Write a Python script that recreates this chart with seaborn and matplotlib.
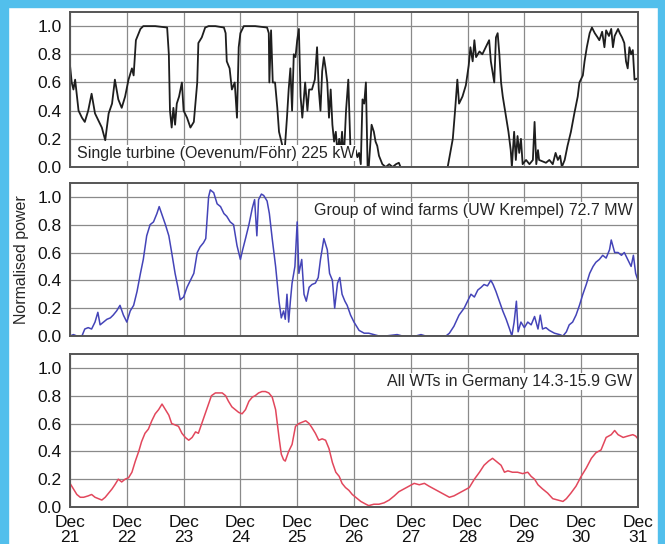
import matplotlib
matplotlib.use("Agg")
import matplotlib.pyplot as plt
from matplotlib.patches import Rectangle
import seaborn as sns
import pandas as pd

# days since Dec 21 00:00
turbine_t = [0.00, 0.03, 0.06, 0.09, 0.15, 0.21, 0.26, 0.32, 0.38, 0.44, 0.50, 0.56, 0.62, 0.68, 0.74,
             0.79, 0.85, 0.91, 0.97, 1.03, 1.09, 1.12, 1.16, 1.24, 1.29, 1.50, 1.71, 1.74, 1.76, 1.79,
             1.82, 1.85, 1.88, 1.92, 1.97, 2.00, 2.06, 2.12, 2.18, 2.24, 2.26, 2.32, 2.38, 2.44, 2.56,
             2.71, 2.74, 2.76, 2.81, 2.85, 2.90, 2.94, 2.97, 3.00, 3.06, 3.26, 3.47, 3.50, 3.51, 3.54,
             3.57, 3.61, 3.65, 3.68, 3.74, 3.78, 3.82, 3.85, 3.88, 3.91, 3.94, 3.97, 4.00, 4.03, 4.06,
             4.09, 4.14, 4.18, 4.21, 4.26, 4.31, 4.35, 4.38, 4.41, 4.44, 4.47, 4.50, 4.53, 4.56, 4.59,
             4.62, 4.65, 4.68, 4.71, 4.74, 4.76, 4.79, 4.82, 4.86, 4.90, 4.94, 4.97, 5.03, 5.06, 5.09,
             5.12, 5.15, 5.18, 5.21, 5.24, 5.26, 5.31, 5.35, 5.38, 5.41, 5.44, 5.47, 5.50, 5.56, 5.62,
             5.68, 5.74, 5.79, 5.82, 6.65, 6.74, 6.78, 6.82, 6.85, 6.91, 6.97, 7.02, 7.05, 7.09, 7.12,
             7.15, 7.21, 7.26, 7.32, 7.38, 7.41, 7.47, 7.50, 7.53, 7.56, 7.59, 7.62, 7.68, 7.72, 7.76,
             7.78, 7.82, 7.85, 7.88, 7.91, 7.94, 7.97, 8.03, 8.09, 8.15, 8.18, 8.21, 8.24, 8.26, 8.32,
             8.38, 8.44, 8.50, 8.55, 8.59, 8.63, 8.66, 8.71, 8.76, 8.82, 8.88, 8.94, 8.97, 9.03, 9.06,
             9.10, 9.15, 9.19, 9.24, 9.29, 9.32, 9.37, 9.41, 9.44, 9.49, 9.53, 9.56, 9.59, 9.65, 9.68,
             9.72, 9.76, 9.79, 9.82, 9.85, 9.88, 9.91, 9.94, 10.00]
turbine_p = [0.72, 0.60, 0.55, 0.62, 0.40, 0.35, 0.32, 0.40, 0.52, 0.38, 0.33, 0.28, 0.19, 0.38, 0.45,
             0.62, 0.48, 0.42, 0.50, 0.62, 0.70, 0.65, 0.90, 0.98, 1.00, 1.00, 0.99, 0.80, 0.40, 0.28,
             0.42, 0.30, 0.45, 0.50, 0.60, 0.40, 0.35, 0.28, 0.32, 0.60, 0.88, 0.92, 0.99, 1.00, 1.00,
             0.99, 0.95, 0.75, 0.70, 0.55, 0.60, 0.35, 0.85, 0.95, 1.00, 1.00, 0.99, 0.95, 0.60, 0.97,
             0.60, 0.60, 0.42, 0.25, 0.15, 0.12, 0.35, 0.55, 0.70, 0.40, 0.80, 0.78, 0.90, 0.98, 0.50,
             0.35, 0.60, 0.40, 0.55, 0.55, 0.62, 0.85, 0.55, 0.40, 0.68, 0.78, 0.70, 0.60, 0.35, 0.55,
             0.30, 0.18, 0.25, 0.10, 0.20, 0.08, 0.25, 0.05, 0.40, 0.62, 0.10, 0.05, 0.12, 0.07, 0.10,
             0.02, 0.48, 0.45, 0.60, 0.00, 0.00, 0.30, 0.25, 0.18, 0.15, 0.08, 0.05, 0.02, 0.00, 0.02,
             0.00, 0.02, 0.03, 0.00, 0.00, 0.20, 0.40, 0.62, 0.45, 0.50, 0.58, 0.72, 0.85, 0.75, 0.90,
             0.78, 0.82, 0.80, 0.85, 0.90, 0.75, 0.60, 0.92, 0.95, 0.80, 0.60, 0.50, 0.35, 0.25, 0.12,
             0.00, 0.25, 0.05, 0.22, 0.10, 0.20, 0.02, 0.05, 0.02, 0.05, 0.32, 0.02, 0.12, 0.05, 0.04,
             0.03, 0.05, 0.02, 0.10, 0.05, 0.08, 0.00, 0.05, 0.15, 0.25, 0.38, 0.50, 0.60, 0.65, 0.75,
             0.85, 0.95, 0.99, 0.95, 0.92, 0.90, 0.96, 0.85, 0.97, 0.93, 0.98, 0.85, 0.93, 0.98, 0.95,
             0.92, 0.88, 0.75, 0.70, 0.85, 0.80, 0.83, 0.62, 0.63]

farms_t = [0.00, 0.06, 0.12, 0.21, 0.26, 0.32, 0.38, 0.44, 0.49, 0.53, 0.59, 0.65, 0.71, 0.76, 0.82,
           0.88, 0.94, 1.00, 1.06, 1.12, 1.18, 1.24, 1.29, 1.35, 1.41, 1.47, 1.53, 1.57, 1.62, 1.68,
           1.74, 1.79, 1.85, 1.90, 1.94, 2.00, 2.06, 2.12, 2.18, 2.24, 2.29, 2.35, 2.39, 2.44, 2.47,
           2.53, 2.59, 2.65, 2.71, 2.76, 2.82, 2.88, 2.94, 3.00, 3.04, 3.09, 3.15, 3.21, 3.25, 3.29,
           3.32, 3.37, 3.41, 3.47, 3.51, 3.56, 3.62, 3.68, 3.72, 3.76, 3.79, 3.82, 3.85, 3.88, 3.91,
           3.96, 4.00, 4.03, 4.08, 4.12, 4.16, 4.21, 4.26, 4.32, 4.37, 4.41, 4.47, 4.53, 4.57, 4.62,
           4.66, 4.71, 4.75, 4.79, 4.84, 4.88, 4.94, 5.00, 5.03, 5.09, 5.18, 5.26, 5.35, 5.44, 5.56,
           5.76, 5.85, 6.09, 6.18, 6.26, 6.62, 6.68, 6.76, 6.85, 6.94, 7.00, 7.06, 7.12, 7.18, 7.24,
           7.29, 7.35, 7.41, 7.45, 7.50, 7.56, 7.62, 7.68, 7.74, 7.78, 7.82, 7.86, 7.89, 7.94, 8.00,
           8.06, 8.12, 8.18, 8.24, 8.28, 8.32, 8.38, 8.44, 8.53, 8.62, 8.68, 8.74, 8.79, 8.85, 8.91,
           8.97, 9.03, 9.09, 9.15, 9.21, 9.26, 9.32, 9.38, 9.44, 9.50, 9.53, 9.59, 9.65, 9.71, 9.76,
           9.82, 9.88, 9.92, 9.96, 10.00]
farms_p = [0.00, 0.01, 0.00, 0.00, 0.05, 0.06, 0.05, 0.10, 0.17, 0.08, 0.10, 0.12, 0.13, 0.15, 0.18,
           0.22, 0.15, 0.10, 0.18, 0.22, 0.32, 0.45, 0.55, 0.72, 0.80, 0.82, 0.88, 0.93, 0.87, 0.80,
           0.72, 0.60, 0.45, 0.35, 0.26, 0.28, 0.35, 0.40, 0.45, 0.60, 0.64, 0.67, 0.70, 1.00, 1.05,
           1.03, 0.95, 0.93, 0.88, 0.86, 0.82, 0.80, 0.65, 0.55, 0.62, 0.70, 0.80, 0.92, 0.98, 0.72,
           0.98, 1.02, 1.01, 0.97, 0.88, 0.70, 0.50, 0.25, 0.13, 0.18, 0.12, 0.30, 0.10, 0.25, 0.38,
           0.50, 0.82, 0.45, 0.55, 0.30, 0.25, 0.35, 0.37, 0.38, 0.42, 0.55, 0.70, 0.62, 0.45, 0.40,
           0.20, 0.38, 0.42, 0.30, 0.25, 0.22, 0.15, 0.10, 0.08, 0.04, 0.02, 0.02, 0.01, 0.00, 0.00,
           0.01, 0.00, 0.00, 0.01, 0.00, 0.00, 0.02, 0.07, 0.15, 0.20, 0.25, 0.30, 0.28, 0.33, 0.35,
           0.37, 0.36, 0.40, 0.37, 0.32, 0.25, 0.18, 0.12, 0.05, 0.00, 0.10, 0.25, 0.03, 0.10, 0.06,
           0.10, 0.08, 0.14, 0.05, 0.15, 0.05, 0.06, 0.04, 0.02, 0.01, 0.00, 0.03, 0.08, 0.10, 0.15,
           0.22, 0.30, 0.37, 0.45, 0.50, 0.53, 0.55, 0.58, 0.56, 0.62, 0.69, 0.60, 0.60, 0.58, 0.60,
           0.55, 0.50, 0.58, 0.45, 0.40]

germany_t = [0.00, 0.06, 0.12, 0.18, 0.24, 0.32, 0.38, 0.44, 0.50, 0.56, 0.62, 0.68, 0.74, 0.79, 0.85,
             0.91, 0.97, 1.03, 1.09, 1.15, 1.21, 1.26, 1.32, 1.38, 1.44, 1.50, 1.56, 1.62, 1.68, 1.74,
             1.79, 1.85, 1.91, 1.97, 2.03, 2.09, 2.15, 2.21, 2.26, 2.32, 2.38, 2.44, 2.49, 2.56, 2.62,
             2.68, 2.74, 2.79, 2.85, 2.91, 2.97, 3.03, 3.09, 3.15, 3.21, 3.26, 3.32, 3.38, 3.44, 3.50,
             3.56, 3.62, 3.68, 3.72, 3.76, 3.79, 3.85, 3.91, 3.97, 4.03, 4.09, 4.15, 4.21, 4.26, 4.32,
             4.38, 4.44, 4.50, 4.56, 4.62, 4.68, 4.74, 4.79, 4.85, 4.91, 4.97, 5.03, 5.12, 5.21, 5.26,
             5.35, 5.44, 5.53, 5.62, 5.71, 5.79, 5.88, 5.97, 6.06, 6.15, 6.24, 6.32, 6.41, 6.50, 6.59,
             6.68, 6.76, 6.85, 6.94, 7.03, 7.12, 7.21, 7.29, 7.37, 7.44, 7.50, 7.59, 7.65, 7.71, 7.79,
             7.88, 7.97, 8.06, 8.12, 8.18, 8.24, 8.32, 8.41, 8.50, 8.59, 8.68, 8.74, 8.82, 8.91, 9.00,
             9.09, 9.18, 9.26, 9.35, 9.44, 9.53, 9.59, 9.65, 9.74, 9.82, 9.91, 9.96, 10.00]
germany_p = [0.17, 0.13, 0.09, 0.07, 0.07, 0.08, 0.09, 0.07, 0.06, 0.05, 0.07, 0.10, 0.13, 0.16, 0.20,
             0.18, 0.20, 0.21, 0.25, 0.33, 0.40, 0.47, 0.53, 0.56, 0.62, 0.67, 0.70, 0.74, 0.70, 0.66,
             0.60, 0.59, 0.58, 0.53, 0.50, 0.48, 0.50, 0.54, 0.53, 0.60, 0.67, 0.74, 0.80, 0.82, 0.82,
             0.82, 0.80, 0.76, 0.72, 0.70, 0.68, 0.67, 0.70, 0.76, 0.79, 0.80, 0.82, 0.83, 0.83, 0.82,
             0.79, 0.70, 0.50, 0.38, 0.34, 0.33, 0.40, 0.45, 0.58, 0.60, 0.61, 0.62, 0.60, 0.57, 0.53,
             0.48, 0.49, 0.48, 0.42, 0.32, 0.25, 0.22, 0.17, 0.14, 0.12, 0.09, 0.07, 0.04, 0.02, 0.01,
             0.02, 0.02, 0.03, 0.05, 0.08, 0.11, 0.13, 0.15, 0.17, 0.16, 0.17, 0.15, 0.13, 0.11, 0.09,
             0.07, 0.08, 0.10, 0.12, 0.14, 0.20, 0.25, 0.30, 0.33, 0.35, 0.33, 0.30, 0.25, 0.26, 0.25,
             0.25, 0.24, 0.25, 0.22, 0.20, 0.16, 0.13, 0.10, 0.06, 0.05, 0.04, 0.06, 0.10, 0.15, 0.22,
             0.28, 0.35, 0.39, 0.41, 0.50, 0.52, 0.55, 0.52, 0.50, 0.51, 0.52, 0.51, 0.49]

day_labels = ["Dec\n21", "Dec\n22", "Dec\n23", "Dec\n24", "Dec\n25", "Dec\n26",
              "Dec\n27", "Dec\n28", "Dec\n29", "Dec\n30", "Dec\n31"]
y_ticks = [0.0, 0.2, 0.4, 0.6, 0.8, 1.0]

panels = [
    (turbine_t, turbine_p, "#1e1e1e", 1.3, "Single turbine (Oevenum/Föhr) 225 kW", "bl"),
    (farms_t, farms_p, "#4444b8", 1.1, "Group of wind farms (UW Krempel) 72.7 MW", "tr"),
    (germany_t, germany_p, "#e2475c", 1.1, "All WTs in Germany 14.3-15.9 GW", "tr"),
]

sns.set_style("white")
plt.rcParams['font.family'] = ['Liberation Sans', 'DejaVu Sans']

fig = plt.figure(figsize=(6.65, 5.44), dpi=100)
fig.patch.set_facecolor("white")

# light blue frame around the picture
blue = "#52bfec"
fig.patches.append(Rectangle((0, 0), 8 / 665, 1, transform=fig.transFigure, color=blue, zorder=0))
fig.patches.append(Rectangle((0, 1 - 7 / 544), 1, 7 / 544, transform=fig.transFigure, color=blue, zorder=0))
fig.patches.append(Rectangle((658 / 665, 0), 7 / 665, 1, transform=fig.transFigure, color=blue, zorder=0))

boxes = [(0.1053, 0.6930, 0.854, 0.2849),
         (0.1053, 0.3824, 0.854, 0.2813),
         (0.1053, 0.0680, 0.854, 0.2813)]

for i, (t, p, col, lw, label, where) in enumerate(panels):
    ax = fig.add_axes(boxes[i])
    df = pd.DataFrame({"day": t, "power": p})
    sns.lineplot(data=df, x="day", y="power", ax=ax, color=col, lw=lw)
    ax.set_xlim(0, 10)
    ax.set_ylim(0, 1.1)
    ax.set_xticks(range(11))
    ax.set_yticks(y_ticks)
    ax.set_yticklabels([f"{v:.1f}" for v in y_ticks], fontsize=12.5, color="#111111")
    if i == 2:
        ax.set_xticklabels(day_labels, fontsize=12.5, linespacing=0.95, color="#111111")
    else:
        ax.set_xticklabels([])
    ax.grid(True, color="#8a8a8a", lw=0.9)
    ax.set_axisbelow(True)
    ax.tick_params(length=0, pad=6)
    ax.set_xlabel("")
    ax.set_ylabel("Normalised power" if i == 1 else "", fontsize=11.5, labelpad=6)
    for s in ax.spines.values():
        s.set_color("#555555")
        s.set_linewidth(1.4)
    if where == "bl":
        ax.text(0.012, 0.04, label, transform=ax.transAxes, fontsize=11.5, ha="left", va="bottom",
                bbox=dict(facecolor="white", edgecolor="none", pad=0.5), zorder=5)
    else:
        ax.text(0.99, 0.82, label, transform=ax.transAxes, fontsize=11.5, ha="right", va="center",
                bbox=dict(facecolor="white", edgecolor="none", pad=0.5), zorder=5)

fig.savefig("out.png", dpi=100)
